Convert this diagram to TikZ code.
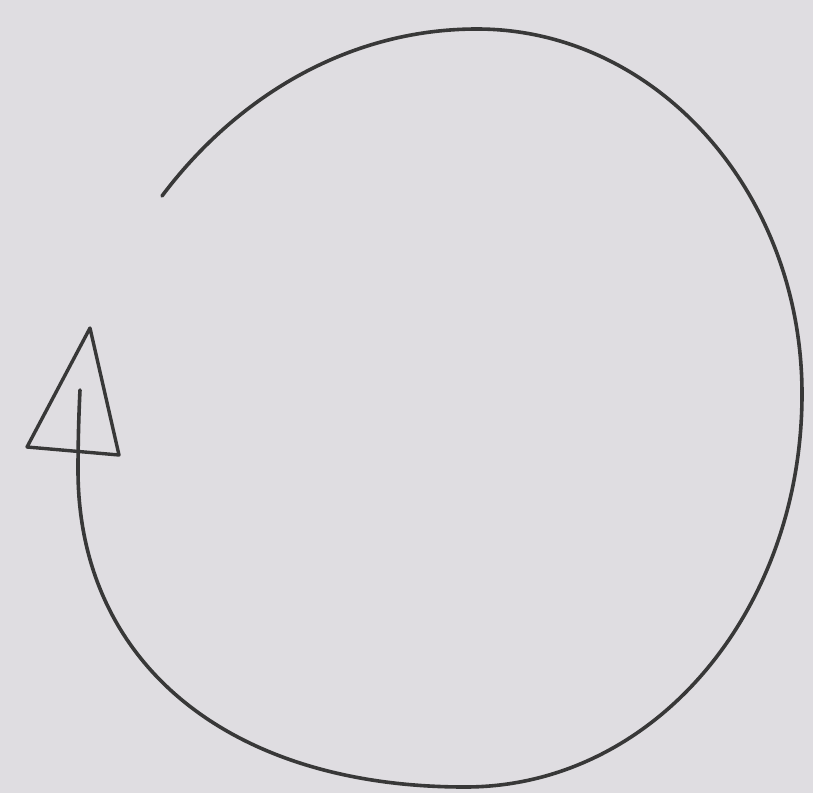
\documentclass[tikz,border=0pt]{standalone}
\begin{document}
\begin{tikzpicture}[x=1pt,y=-1pt,
  ink/.style={draw=black!78, line width=3.6pt, line cap=round, line join=round}]
\definecolor{paper}{RGB}{223,221,225}
\fill[paper] (0,0) rectangle (813,793);
\useasboundingbox (0,0) rectangle (813,793);
\coordinate (s) at (162,196);
\coordinate (top) at (477,29);
\coordinate (rt) at (802,394);
\coordinate (bot) at (465,787);
\coordinate (lf) at (78,470);
\coordinate (e) at (80,390);
\draw[ink] (s) .. controls (234,100) and (345,29) .. (top)
  .. controls (656,29) and (802,192) .. (rt)
  .. controls (802,610) and (655,787) .. (bot)
  .. controls (229,787) and (78,663) .. (lf)
  .. controls (78,440) and (79,410) .. (e);
\node[coordinate] (apex) at (90,328) {};
\node[coordinate] (bl) at (27,447) {};
\node[coordinate] (br) at (119,455) {};
\draw[draw=black!78, line width=3.4pt, line join=round] (apex) -- (bl) -- (br) -- cycle;
\end{tikzpicture}
\end{document}
